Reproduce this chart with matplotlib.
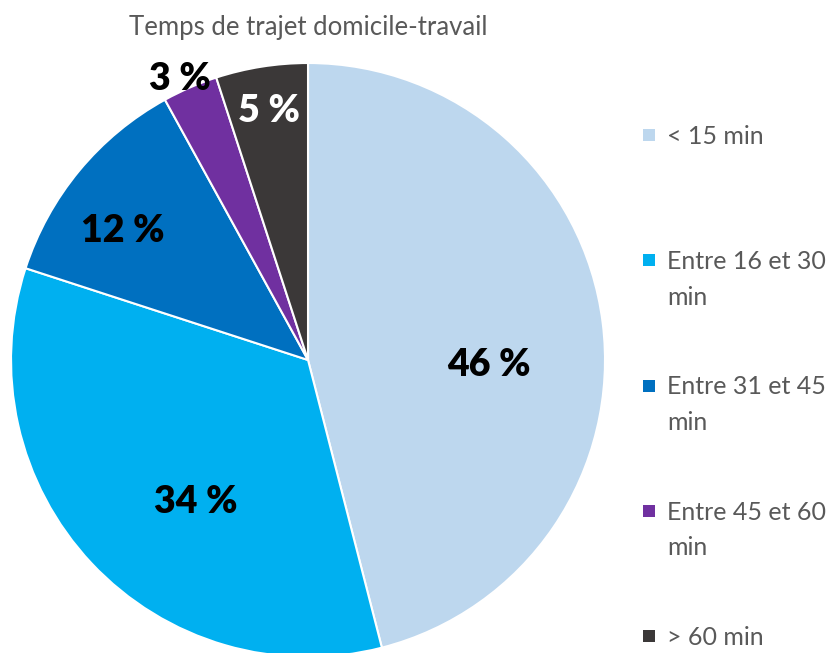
import matplotlib.pyplot as plt
from matplotlib.patches import Rectangle
import numpy as np

# ------------------ Data --------------------

categories = ['< 15 min', 'Entre 16 et 30\nmin', 'Entre 31 et 45\nmin',
              'Entre 45 et 60\nmin', '> 60 min']
shares = [46, 34, 12, 3, 5]
colors = ['#BDD7EE', '#00B0F0', '#0070C0', '#7030A0', '#3B3838']
labelColors = ['black', 'black', 'black', 'black', 'white']
labelDist = [0.61, 0.61, 0.76, 1.04, 0.85]
labelShift = [-8.8, 8.5, 4.6, 1.1, 0.0]   # degrees away from wedge middle

plt.rcParams['font.family'] = ['Lato', 'DejaVu Sans']

# ------------------ Figure --------------------

W, H = 828, 653
fig = plt.figure(figsize=(W / 100, H / 100), dpi=100)

ax = fig.add_axes([0.0133, -0.0061, 0.7174, 0.9096])
wedges, _ = ax.pie(shares, colors=colors, startangle=90, counterclock=False,
                   radius=1.0,
                   wedgeprops=dict(edgecolor='white', linewidth=1.5))
ax.set_xlim(-1, 1)
ax.set_ylim(-1, 1)
ax.set_aspect('equal')
ax.axis('off')
for w in wedges:
    w.set_clip_on(False)

for w, v, c, d, s in zip(wedges, shares, labelColors, labelDist, labelShift):
    mid = np.deg2rad((w.theta1 + w.theta2) / 2 + s)
    ax.text(d * np.cos(mid), d * np.sin(mid), f'{v} %', ha='center', va='center',
            fontsize=27, fontweight='heavy', color=c)

fig.text(0.372, 1 - 28 / H, 'Temps de trajet domicile-travail', ha='center', va='center',
         fontsize=18.5, color='#595959')

# legend, drawn by hand so the square sits on the first text line
legTop = 135
legStep = 125.25
for i, (lab, col) in enumerate(zip(categories, colors)):
    yPix = legTop + i * legStep
    yFig = 1 - yPix / H
    fig.patches.append(Rectangle((643 / W, yFig - 6 / H), 12 / W, 12 / H,
                                 transform=fig.transFigure, facecolor=col,
                                 edgecolor='none'))
    fig.text(667 / W, yFig + 10 / H, lab, ha='left', va='top', fontsize=18,
             color='#595959', linespacing=1.65)

fig.savefig('out.png', dpi=100)
